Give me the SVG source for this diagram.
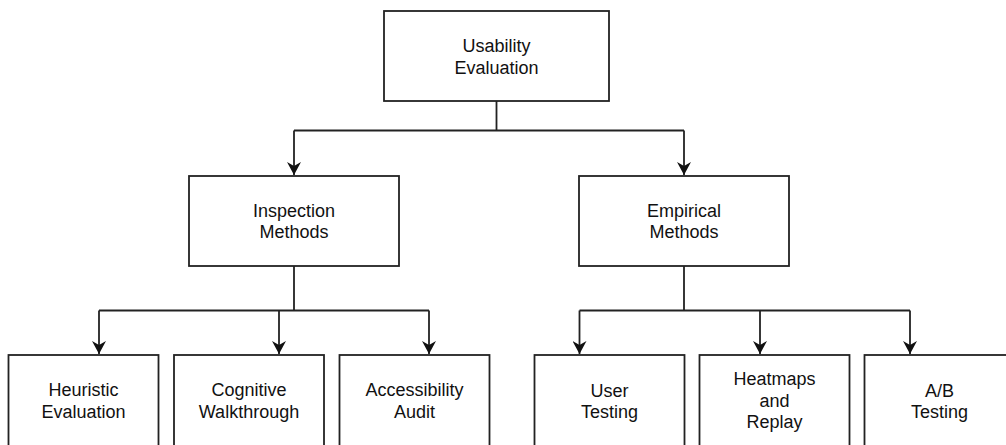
<svg xmlns="http://www.w3.org/2000/svg" width="1006" height="445" viewBox="0 0 1006 445">
<defs>
<marker id="arr" markerWidth="14" markerHeight="14" viewBox="0 0 14 14" refX="13" refY="7" orient="auto" markerUnits="userSpaceOnUse">
<path d="M0,0 L13,7 L0,14 L4,7 Z" fill="#111"/>
</marker>
<style>
.box{fill:#fff;stroke:#222;stroke-width:1.8}
.lbl{font-family:"Liberation Sans",Arial,sans-serif;font-size:18px;fill:#111;text-anchor:middle}
.c{fill:none;stroke:#222;stroke-width:1.8}
</style>
</defs>
<rect width="1006" height="445" fill="#fff"/>
<g id="connectors">
<path class="c" d="M496.5,101 V130.5 M294,130.5 H684"/>
<path class="c" d="M294,130.5 V175" marker-end="url(#arr)"/>
<path class="c" d="M684,130.5 V175" marker-end="url(#arr)"/>
<path class="c" d="M294,266 V310.5 M99,310.5 H429"/>
<path class="c" d="M99,310.5 V354" marker-end="url(#arr)"/>
<path class="c" d="M279,310.5 V354" marker-end="url(#arr)"/>
<path class="c" d="M429,310.5 V354" marker-end="url(#arr)"/>
<path class="c" d="M684,266 V310.5 M579.5,310.5 H910"/>
<path class="c" d="M579.5,310.5 V354" marker-end="url(#arr)"/>
<path class="c" d="M760,310.5 V354" marker-end="url(#arr)"/>
<path class="c" d="M910,310.5 V354" marker-end="url(#arr)"/>
</g>
<g id="usability-evaluation">
<rect class="box" x="384" y="11" width="225" height="90"/>
<text class="lbl" x="496.5" y="52">Usability</text>
<text class="lbl" x="496.5" y="73.5">Evaluation</text>
</g>
<g id="inspection-methods">
<rect class="box" x="189" y="176" width="210" height="90"/>
<text class="lbl" x="294" y="216.5">Inspection</text>
<text class="lbl" x="294" y="238">Methods</text>
</g>
<g id="empirical-methods">
<rect class="box" x="579" y="176" width="210" height="90"/>
<text class="lbl" x="684" y="216.5">Empirical</text>
<text class="lbl" x="684" y="238">Methods</text>
</g>
<g id="heuristic-evaluation">
<rect class="box" x="8.5" y="355" width="150" height="92"/>
<text class="lbl" x="83.5" y="396">Heuristic</text>
<text class="lbl" x="83.5" y="418">Evaluation</text>
</g>
<g id="cognitive-walkthrough">
<rect class="box" x="174" y="355" width="150" height="92"/>
<text class="lbl" x="249" y="396">Cognitive</text>
<text class="lbl" x="249" y="418">Walkthrough</text>
</g>
<g id="accessibility-audit">
<rect class="box" x="339.5" y="355" width="150" height="92"/>
<text class="lbl" x="414.5" y="396">Accessibility</text>
<text class="lbl" x="414.5" y="418">Audit</text>
</g>
<g id="user-testing">
<rect class="box" x="534.5" y="355" width="150" height="92"/>
<text class="lbl" x="609.5" y="396.5">User</text>
<text class="lbl" x="609.5" y="418">Testing</text>
</g>
<g id="heatmaps-and-replay">
<rect class="box" x="699.5" y="355" width="150" height="92"/>
<text class="lbl" x="774.5" y="385">Heatmaps</text>
<text class="lbl" x="774.5" y="406.5">and</text>
<text class="lbl" x="774.5" y="428">Replay</text>
</g>
<g id="ab-testing">
<rect class="box" x="864.5" y="355" width="150" height="92"/>
<text class="lbl" x="939.5" y="396.5">A/B</text>
<text class="lbl" x="939.5" y="418">Testing</text>
</g>
</svg>
